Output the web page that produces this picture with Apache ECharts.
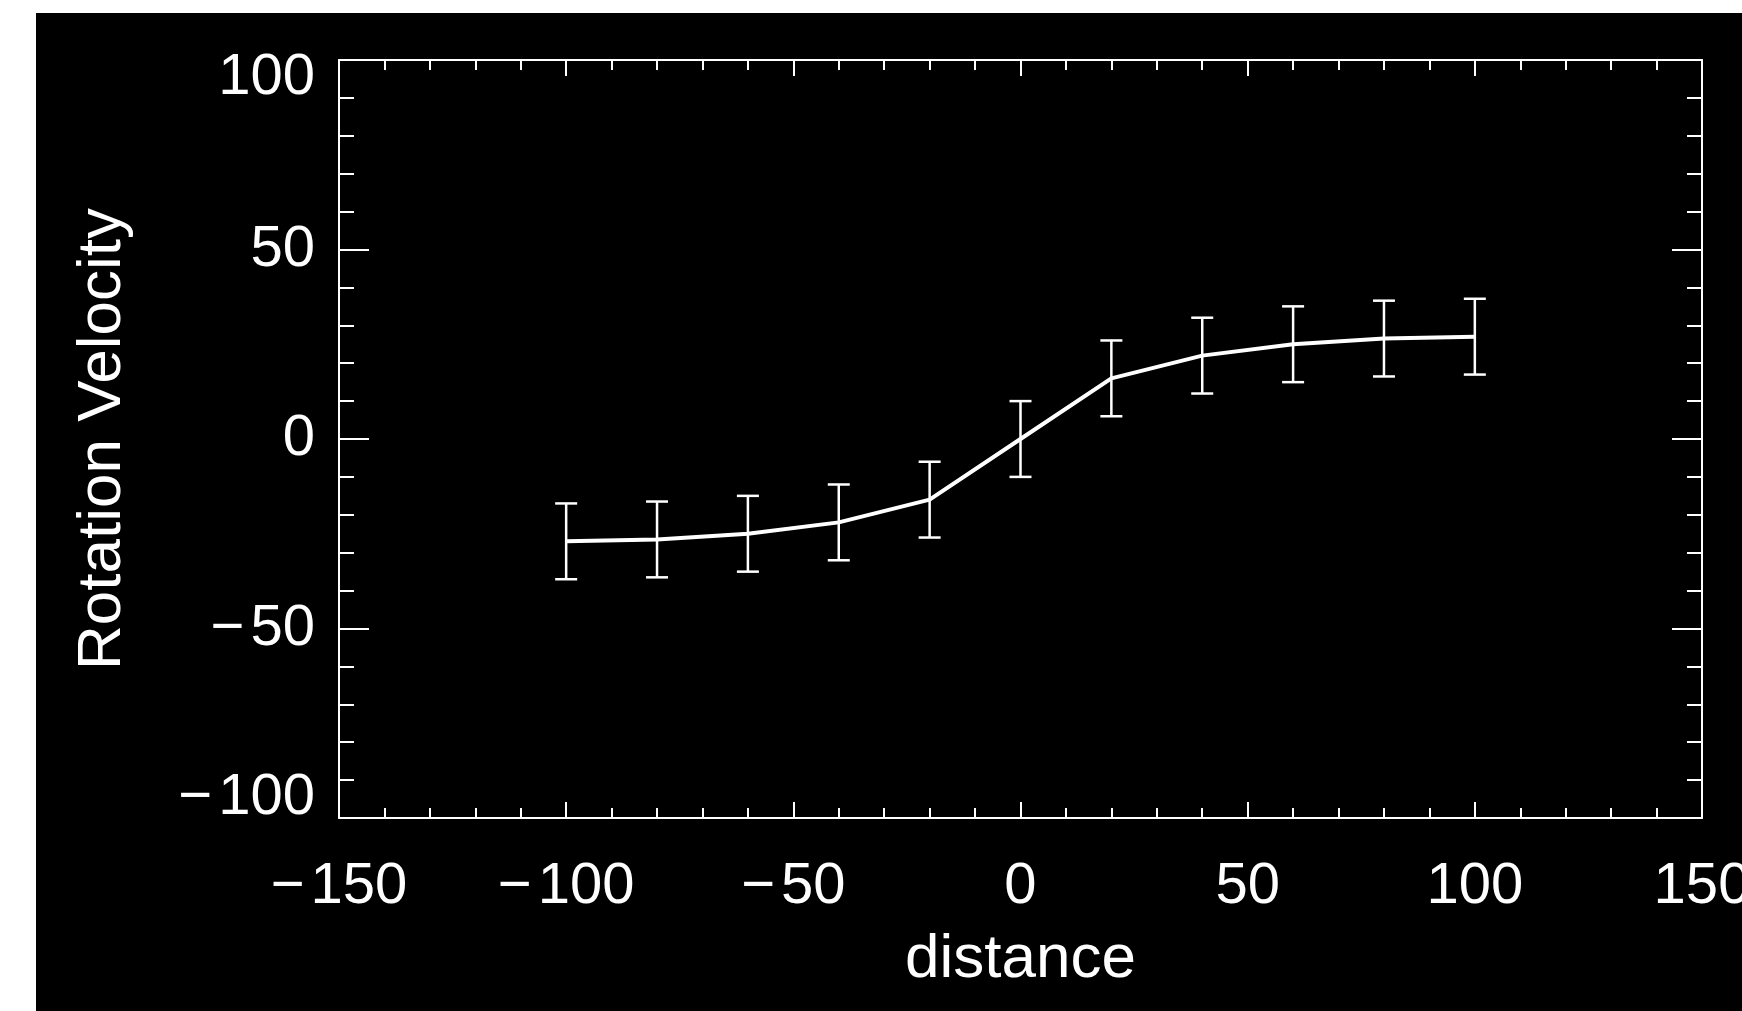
<!DOCTYPE html>
<html>
<head>
<meta charset="utf-8">
<script src="https://cdn.jsdelivr.net/npm/echarts@6/dist/echarts.min.js"></script>
<style>
  html, body { margin: 0; padding: 0; background: #ffffff; width: 1742px; height: 1011px; overflow: hidden; }
  #chart { position: absolute; left: 36px; top: 13px; width: 1706px; height: 998px; background: #000; }
</style>
</head>
<body>
<div id="chart"></div>
<script>
// Data
const distance = [-100, -80, -60, -40, -20, 0, 20, 40, 60, 80, 100];
const velocity = [-27, -26.5, -25, -22, -16, 0, 16, 22, 25, 26.5, 27];
const velocityError = [10, 10, 10, 10, 10, 10, 10, 10, 10, 10, 10];
const xTitle = 'distance';
const yTitle = 'Rotation Velocity';

const chart = echarts.init(document.getElementById('chart'), null, { renderer: 'canvas' });

const FONT = 'Liberation Sans';
const yMin = -100, yMax = 100;
// Label formatting: long minus sign with a small gap, as in the reference
function lab(v, suffix) {
  const sfx = suffix || '';
  const a = Math.abs(v);
  if (v < 0) return '{m' + sfx + '|\u2212}{d' + sfx + '|' + a + '}';
  return '{d' + sfx + '|' + a + '}';
}
const xFmt = v => lab(v, '');
const yFmt = v => {
  if (v === yMax) return lab(v, 'hi');
  if (v === yMin) return lab(v, 'lo');
  return lab(v, '');
};

const lineData = distance.map((d, i) => [d, velocity[i]]);
const errData = distance.map((d, i) => [d, velocity[i] - velocityError[i], velocity[i] + velocityError[i]]);

const axisLineStyle = { color: '#ffffff', width: 2 };
const labelFont = { color: '#ffffff', fontSize: 58, fontFamily: FONT };
const st = extra => Object.assign({}, labelFont, extra);
const richStyles = {
  m: st({ padding: [0, 6, 0, 0] }),
  d: st({}),
  mhi: st({ verticalAlign: 'bottom', padding: [36, 6, 0, 0] }),
  dhi: st({ verticalAlign: 'bottom', padding: [36, 0, 0, 0] }),
  mlo: st({ verticalAlign: 'top', padding: [0, 6, 41, 0] }),
  dlo: st({ verticalAlign: 'top', padding: [0, 0, 41, 0] })
};

const option = {
  backgroundColor: '#000000',
  animation: false,
  grid: { left: 303, top: 47, right: 40, bottom: 193, containLabel: false, outerBoundsMode: 'none' },
  xAxis: [
    {
      type: 'value', min: -150, max: 150, interval: 50, position: 'bottom',
      name: xTitle, nameLocation: 'middle', nameGap: 111,
      nameTextStyle: { color: '#ffffff', fontSize: 62, fontFamily: FONT },
      axisLine: { show: true, onZero: false, lineStyle: axisLineStyle },
      axisTick: { show: true, inside: true, length: 16, lineStyle: axisLineStyle },
      minorTick: { show: true, splitNumber: 5, length: 10, lineStyle: axisLineStyle },
      axisLabel: Object.assign({ margin: 40, formatter: xFmt, hideOverlap: false, rich: richStyles }, labelFont),
      splitLine: { show: false }
    },
    {
      type: 'value', min: -150, max: 150, interval: 50, position: 'top',
      axisLine: { show: true, onZero: false, lineStyle: axisLineStyle },
      axisTick: { show: true, inside: true, length: 16, lineStyle: axisLineStyle },
      minorTick: { show: true, splitNumber: 5, length: 10, lineStyle: axisLineStyle },
      axisLabel: { show: false },
      splitLine: { show: false }
    }
  ],
  yAxis: [
    {
      type: 'value', min: yMin, max: yMax, interval: 50, position: 'left',
      name: yTitle, nameLocation: 'middle', nameGap: 205, nameRotate: 90,
      nameTextStyle: { color: '#ffffff', fontSize: 62, fontFamily: FONT },
      axisLine: { show: true, onZero: false, lineStyle: axisLineStyle },
      axisTick: { show: true, inside: true, length: 30, lineStyle: axisLineStyle },
      minorTick: { show: true, splitNumber: 5, length: 15, lineStyle: axisLineStyle },
      axisLabel: Object.assign({ margin: 24, formatter: yFmt, hideOverlap: false, rich: richStyles }, labelFont),
      splitLine: { show: false }
    },
    {
      type: 'value', min: yMin, max: yMax, interval: 50, position: 'right',
      axisLine: { show: true, onZero: false, lineStyle: axisLineStyle },
      axisTick: { show: true, inside: true, length: 30, lineStyle: axisLineStyle },
      minorTick: { show: true, splitNumber: 5, length: 15, lineStyle: axisLineStyle },
      axisLabel: { show: false },
      splitLine: { show: false }
    }
  ],
  series: [
    {
      type: 'line', xAxisIndex: 0, yAxisIndex: 0,
      data: lineData, showSymbol: false, symbol: 'none',
      lineStyle: { color: '#ffffff', width: 4 }, z: 3
    },
    {
      type: 'custom', xAxisIndex: 0, yAxisIndex: 0,
      data: errData,
      renderItem: function (params, api) {
        const x = api.value(0);
        const lo = api.coord([x, api.value(1)]);
        const hi = api.coord([x, api.value(2)]);
        const hw = 11;
        const style = { stroke: '#ffffff', lineWidth: 2.5 };
        return {
          type: 'group',
          children: [
            { type: 'line', shape: { x1: lo[0], y1: lo[1], x2: hi[0], y2: hi[1] }, style },
            { type: 'line', shape: { x1: lo[0] - hw, y1: lo[1], x2: lo[0] + hw, y2: lo[1] }, style },
            { type: 'line', shape: { x1: hi[0] - hw, y1: hi[1], x2: hi[0] + hw, y2: hi[1] }, style }
          ]
        };
      },
      z: 4
    }
  ]
};

chart.setOption(option);
</script>
</body>
</html>
